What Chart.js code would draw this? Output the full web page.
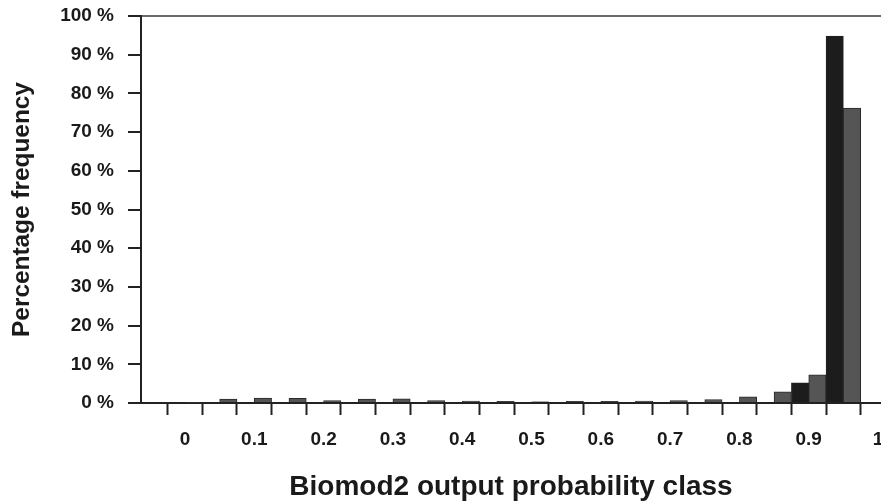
<!DOCTYPE html>
<html>
<head>
<meta charset="utf-8">
<script src="https://cdn.jsdelivr.net/npm/chart.js@4.4.1/dist/chart.umd.min.js"></script>
<style>
  html, body { margin: 0; padding: 0; overflow: hidden; background: #ffffff; width: 881px; height: 504px; }
  #wrap { width: 921px; height: 504px; }
</style>
</head>
<body>
<div id="wrap"><canvas id="c" width="921" height="504"></canvas></div>
<script>
// ---- data ----
const binCenters = [0, 0.05, 0.1, 0.15, 0.2, 0.25, 0.3, 0.35, 0.4, 0.45, 0.5, 0.55, 0.6, 0.65, 0.7, 0.75, 0.8, 0.85, 0.9, 0.95];
const darkSeries = [0, 0, 0, 0, 0, 0, 0, 0, 0, 0, 0, 0, 0, 0, 0, 0, 0, 0, 5.2, 94.8];
const greySeries = [0.2, 1.0, 1.3, 1.2, 0.6, 1.0, 1.1, 0.6, 0.5, 0.4, 0.3, 0.4, 0.4, 0.5, 0.6, 0.9, 1.6, 2.9, 7.3, 76.2];
const xLabelValues = [0, 0.1, 0.2, 0.3, 0.4, 0.5, 0.6, 0.7, 0.8, 0.9, 1];
const xLabelTexts = ['0', '0.1', '0.2', '0.3', '0.4', '0.5', '0.6', '0.7', '0.8', '0.9', '1'];
const xBinEdges = [-0.025, 0.025, 0.075, 0.125, 0.175, 0.225, 0.275, 0.325, 0.375, 0.425, 0.475, 0.525, 0.575, 0.625, 0.675, 0.725, 0.775, 0.825, 0.875, 0.925, 0.975];
const yTickValues = [0, 10, 20, 30, 40, 50, 60, 70, 80, 90, 100];
const yTickSuffix = ' %';

const near = (a, b) => Math.abs(a - b) < 1e-9;
const isEdge = v => xBinEdges.some(e => near(e, v));
const labelFor = v => {
  const i = xLabelValues.findIndex(l => near(l, v));
  return i >= 0 ? xLabelTexts[i] : '';
};
const xTicks = xBinEdges.concat(xLabelValues).sort((a, b) => a - b);

const ink = '#1a1a1a';
const fam = "'Liberation Sans', Arial, Helvetica, sans-serif";

new Chart(document.getElementById('c'), {
  type: 'bar',
  data: {
    datasets: [
      {
        label: 'dark',
        data: binCenters.map((x, i) => ({ x: x, y: darkSeries[i] })),
        backgroundColor: '#1c1c1c',
        borderColor: '#222222',
        borderWidth: 1,
        barThickness: 17.3
      },
      {
        label: 'grey',
        data: binCenters.map((x, i) => ({ x: x, y: greySeries[i] })),
        backgroundColor: '#555555',
        borderColor: '#2a2a2a',
        borderWidth: 1,
        barThickness: 17.3
      }
    ]
  },
  options: {
    responsive: false,
    animation: false,
    layout: { padding: { left: 0, right: 40, top: 16, bottom: 0 } },
    plugins: { legend: { display: false }, tooltip: { enabled: false } },
    scales: {
      x: {
        type: 'linear',
        min: -0.0635,
        max: 1.0043,
        offset: false,
        afterBuildTicks: s => { s.ticks = xTicks.map(v => ({ value: v })); },
        afterFit: s => { s.height = 101; s.paddingLeft = 0; s.paddingRight = 0; },
        grid: {
          offset: false,
          drawOnChartArea: false,
          drawTicks: true,
          tickLength: 12,
          tickWidth: 2,
          tickColor: ctx => (ctx.tick && isEdge(ctx.tick.value)) ? '#222222' : 'rgba(0,0,0,0)'
        },
        border: { display: true, color: '#222222', width: 2 },
        ticks: {
          autoSkip: false, maxRotation: 0, minRotation: 0, padding: 13,
          color: ink,
          font: { family: fam, size: 19, weight: 'bold' },
          callback: v => labelFor(v)
        },
        title: {
          display: true,
          text: 'Biomod2 output probability class',
          color: ink,
          font: { family: fam, size: 28, weight: 'bold' },
          padding: { top: 0, bottom: 0 }
        }
      },
      y: {
        min: 0,
        max: 100,
        afterBuildTicks: s => { s.ticks = yTickValues.map(v => ({ value: v })); },
        afterFit: s => { s.width = 141; s.paddingTop = 0; s.paddingBottom = 0; },
        grid: {
          drawOnChartArea: true,
          color: ctx => (ctx.tick && ctx.tick.value === 100) ? '#6a6a6a' : 'rgba(0,0,0,0)',
          lineWidth: 2,
          tickColor: '#222222',
          tickWidth: 2,
          tickLength: 13
        },
        border: { display: true, color: '#222222', width: 2 },
        ticks: {
          padding: 14,
          color: ink,
          font: { family: fam, size: 19, weight: 'bold' },
          callback: v => v + yTickSuffix
        },
        title: {
          display: true,
          text: 'Percentage frequency',
          color: ink,
          font: { family: fam, size: 24.4, weight: 'bold' },
          padding: { top: 8, bottom: 0 }
        }
      }
    }
  }
});
</script>
</body>
</html>
